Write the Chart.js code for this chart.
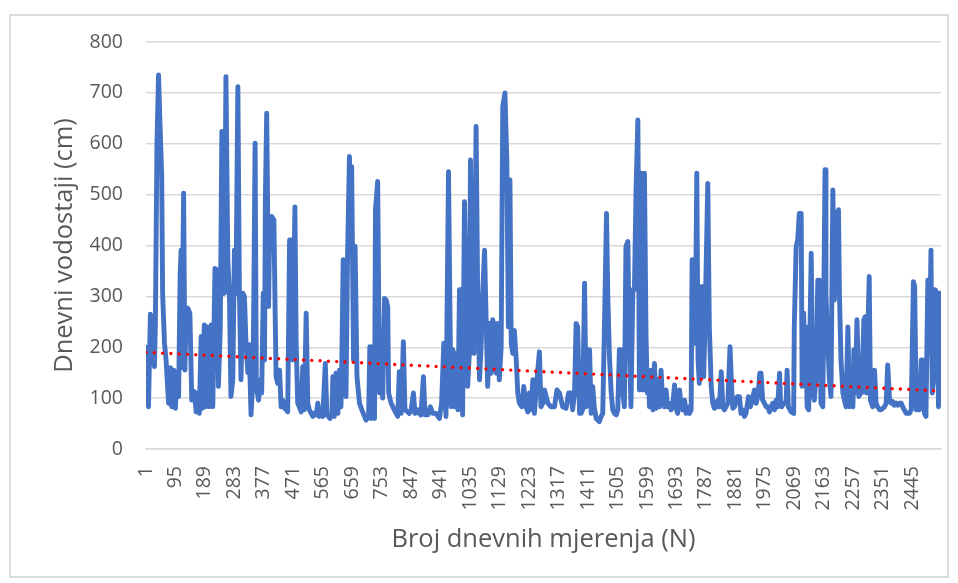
<!DOCTYPE html>
<html>
<head>
<meta charset="utf-8">
<script src="https://cdn.jsdelivr.net/npm/chart.js@4"></script>
<style>
  html, body { margin: 0; padding: 0; background: #ffffff; }
  #wrap { position: relative; width: 958px; height: 583px; }
  #frame { position: absolute; left: 9px; top: 14px; width: 940px; height: 564px; border: 2px solid #dcdcdc; box-sizing: border-box; pointer-events: none; }
  canvas { position: absolute; left: 0; top: 0; }
</style>
</head>
<body>
<div id="wrap">
  <canvas id="c" width="958" height="583"></canvas>
  <div id="frame"></div>
</div>
<script>
// Measurement number (day index) of each read point
const days = [
  1,3,5,7,9,15,19,24,28,31,36,41,45,51,54,60,65,73,79,83,90,95,100,105,110,113,115,121,125,129,134,141,147,
  155,161,166,171,177,181,187,192,198,203,209,214,221,228,232,238,243,247,251,256,262,267,272,278,283,288,294,299,304,310,
  315,320,326,330,336,342,345,349,353,360,366,370,375,379,382,386,392,396,402,409,413,416,421,427,432,437,443,448,453,
  459,464,469,476,480,485,490,496,501,506,512,517,522,528,533,538,544,549,554,559,565,573,578,583,588,594,597,602,607,613,618,623,626,630,
  634,639,644,650,654,657,663,668,674,682,692,703,711,715,719,724,730,733,740,746,751,756,762,767,772,775,783,793,804,809,815,822,827,
  836,841,847,854,859,868,873,878,886,891,900,908,916,926,937,944,951,
  958,966,970,974,980,985,990,996,1001,1006,1011,1017,1022,1027,1033,1036,1040,1047,1054,1059,1065,1070,1075,1081,1086,1091,1097,
  1102,1107,1112,1118,1123,1128,1134,1139,1146,1152,1157,1162,1166,1171,1176,1182,1187,1192,1200,1206,1213,1219,1224,1229,1235,1240,1248,1256,1261,1267,
  1272,1283,1293,1304,1312,1320,1330,1341,1349,1357,1362,1368,1373,1378,1384,1389,1394,1400,1405,1410,1416,1421,1426,1431,1437,1442,1447,1453,1458,
  1463,1470,1474,1479,1485,1490,1495,1501,1506,1511,1516,1522,1527,1532,1538,1543,1548,1554,1559,1564,1570,1575,1580,1586,1591,
  1596,1600,1604,1607,1612,1618,1623,1628,1634,1639,1644,1649,1655,1660,1665,1671,1676,1681,1687,1692,1697,1703,1708,1713,1719,1724,1729,1735,1740,
  1743,1748,1753,1758,1762,1766,1772,1777,1780,1784,1793,1798,1804,1809,1814,1820,1825,1830,1836,1841,1846,1851,1857,1864,1870,1873,1878,1887,1894,1899,1905,1910,
  1915,1923,1929,1937,1942,1947,1953,1959,1963,1968,1974,1979,1984,1990,1995,2000,2006,2011,2016,2022,2025,2029,2035,2043,2046,2050,2059,2067,
  2069,2075,2080,2085,2091,2094,2097,2099,2102,2105,2110,2115,2123,2128,2133,2139,2144,2149,2154,2160,2167,2170,2176,2181,2186,2192,2197,2202,2210,2213,2218,2224,2229,
  2234,2240,2245,2250,2256,2259,2263,2269,2275,2280,2284,2291,2295,2299,2308,2312,2319,2325,2330,2335,2341,2346,2351,2357,2362,2367,2373,2378,2383,2388,2394,
  2399,2404,2410,2415,2420,2426,2431,2436,2442,2449,2453,2458,2463,2468,2474,2479,2484,2489,2495,2500,2505,2509,2514,2518,2525,2529,2533,2537
];
// Daily water level (cm) at each read point
const levels = [
  200,110,190,120,83,265,255,175,162,250,600,735,650,540,306,208,175,90,160,83,155,80,150,103,345,391,160,503,155,260,277,267,96,
  113,73,110,70,221,80,244,83,240,83,244,83,355,352,123,240,624,306,306,732,372,306,103,136,391,306,712,306,136,306,
  300,208,150,205,67,136,300,601,123,96,136,110,306,175,500,660,280,450,457,450,267,142,129,155,83,96,80,77,73,
  411,411,175,476,208,90,83,73,162,77,267,90,77,70,64,70,67,90,64,73,64,168,67,64,60,70,142,64,149,70,155,83,188,372,
  220,103,380,575,400,555,175,398,142,90,73,57,64,201,60,201,60,470,526,110,188,100,296,293,280,110,90,77,64,152,70,211,77,
  73,70,77,110,70,77,70,67,142,67,67,83,70,70,60,90,208,
  64,545,306,83,195,83,188,77,313,313,67,486,306,123,195,568,306,188,634,306,136,201,306,391,254,123,247,
  149,254,240,149,247,136,201,673,700,568,240,529,208,188,233,175,110,90,83,123,83,73,110,77,136,70,136,191,83,90,
  116,90,83,83,116,110,83,80,110,110,77,110,247,240,70,70,77,326,83,195,195,70,123,83,60,57,54,64,70,
  227,463,306,188,110,77,70,67,77,195,195,110,83,398,408,208,83,313,313,500,647,116,542,116,542,
  227,110,142,83,155,77,168,80,136,83,155,96,83,116,83,90,77,83,126,80,70,116,83,77,96,70,83,70,77,
  372,365,208,542,175,129,319,319,142,240,522,240,123,90,80,83,96,83,152,83,77,83,90,201,110,80,83,103,103,70,77,64,
  70,103,83,103,116,90,103,149,149,96,90,83,83,73,83,90,77,96,83,149,96,83,90,90,155,83,73,70,
  240,398,411,463,463,123,220,267,150,240,83,77,385,110,96,149,332,332,90,83,549,306,201,136,103,509,293,457,470,306,175,110,96,
  83,240,83,90,83,195,110,254,103,110,110,254,260,110,339,96,83,155,90,83,77,77,80,83,90,165,96,90,93,86,90,
  86,90,90,83,77,70,70,70,77,329,319,77,83,77,175,175,70,64,332,188,391,110,142,313,306,83,306,155
];
// Linear trend (read at the first and last measurement)
const trendDays = [1, 2537];
const trendLevels = [190, 114];
// Axis tick labels
const xTickValues = [1,95,189,283,377,471,565,659,753,847,941,1035,1129,1223,1317,1411,1505,1599,1693,1787,1881,1975,2069,2163,2257,2351,2445];
const yMin = 0, yMax = 800, yStep = 100;

const FONT = "'Open Sans', 'Noto Sans', sans-serif";
const TXT = '#595959';

new Chart(document.getElementById('c'), {
  type: 'line',
  data: {
    datasets: [
      {
        label: 'Trend',
        data: trendDays.map((d, i) => ({ x: d, y: trendLevels[i] })),
        borderColor: '#FF0000',
        borderWidth: 3.4,
        borderDash: [0, 8.3],
        borderCapStyle: 'round',
        pointRadius: 0,
        fill: false
      },
      {
        label: 'Dnevni vodostaji',
        data: days.map((d, i) => ({ x: d, y: levels[i] })),
        borderColor: '#4472C4',
        borderWidth: 4.9,
        borderJoinStyle: 'round',
        borderCapStyle: 'round',
        pointRadius: 0,
        tension: 0,
        fill: false
      }
    ]
  },
  options: {
    responsive: false,
    animation: false,
    layout: { padding: { top: 42, right: 17, left: 0, bottom: 0 } },
    plugins: { legend: { display: false }, tooltip: { enabled: false } },
    scales: {
      x: {
        type: 'linear',
        min: 1,
        max: 2537,
        afterBuildTicks: ax => { ax.ticks = xTickValues.map(v => ({ value: v })); },
        afterFit: s => { s.height = 134; },
        ticks: {
          autoSkip: false, minRotation: 90, maxRotation: 90, padding: 17,
          color: TXT, font: { family: FONT, size: 19.5 },
          callback: v => String(v)
        },
        grid: { display: false, drawTicks: false },
        border: { display: true, color: '#d9d9d9', width: 1.5 },
        title: {
          display: true, text: 'Broj dnevnih mjerenja (N)', color: TXT,
          font: { family: FONT, size: 25.5 }, padding: { top: 0, bottom: 28 }
        }
      },
      y: {
        min: yMin, max: yMax,
        afterFit: s => { s.width = 146; },
        ticks: { stepSize: yStep, padding: 23, color: TXT, font: { family: FONT, size: 19.5 } },
        grid: { color: '#d9d9d9', lineWidth: 1.5, drawTicks: false },
        border: { display: false },
        title: {
          display: true, text: 'Dnevni vodostaji (cm)', color: TXT,
          font: { family: FONT, size: 25.5 }, padding: { top: 49, bottom: 0 }
        }
      }
    }
  }
});
</script>
</body>
</html>
